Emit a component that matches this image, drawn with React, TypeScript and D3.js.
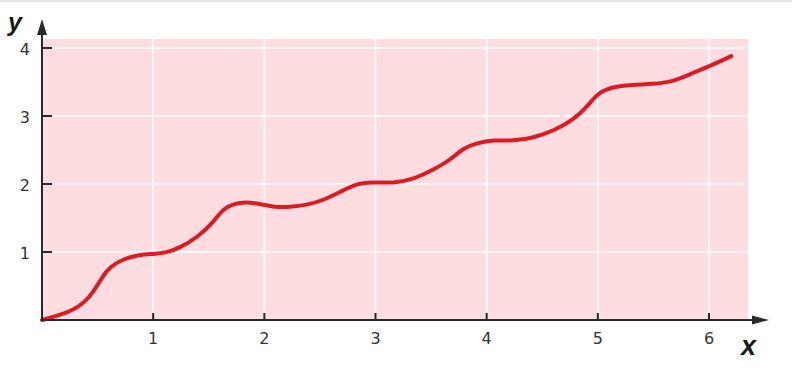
import React from "react";
import * as d3 from "d3";

const xValues = [0, 0.16, 0.34, 0.46, 0.54, 0.61, 0.73, 0.88, 1.0, 1.12, 1.24, 1.4, 1.54, 1.63, 1.78, 1.93, 2.08, 2.23, 2.38, 2.53, 2.68, 2.83, 2.98, 3.16, 3.34, 3.52, 3.67, 3.79, 3.91, 4.06, 4.24, 4.42, 4.6, 4.78, 4.9, 5.0, 5.13, 5.31, 5.49, 5.67, 5.85, 6.03, 6.2];
const yValues = [0, 0.07, 0.19, 0.4, 0.63, 0.78, 0.9, 0.96, 0.97, 0.99, 1.06, 1.22, 1.43, 1.65, 1.74, 1.72, 1.66, 1.66, 1.69, 1.76, 1.88, 2.01, 2.03, 2.01, 2.07, 2.21, 2.35, 2.53, 2.6, 2.65, 2.63, 2.68, 2.78, 2.94, 3.13, 3.34, 3.43, 3.46, 3.47, 3.5, 3.63, 3.75, 3.88];
const xTicks = [1, 2, 3, 4, 5, 6];
const yTicks = [1, 2, 3, 4];
const xAxisLabel = "x";
const yAxisLabel = "y";

export default function App() {
  const W = 792, H = 380;
  const x = d3.scaleLinear().domain([0, 6]).range([42, 709]);
  const y = d3.scaleLinear().domain([0, 4]).range([320, 48]);
  const pts = xValues.map((v, i) => [v, yValues[i]] as [number, number]);
  const line = d3
    .line<[number, number]>()
    .x((d) => x(d[0]))
    .y((d) => y(d[1]))
    .curve(d3.curveBasis);
  const axisColor = "#2a2a2a";
  const font = "'DejaVu Sans', Verdana, sans-serif";
  const labelFont = "'Liberation Sans', Arial, sans-serif";
  const x0 = x(0), y0 = y(0);
  const plotRight = 748, plotTop = 39;
  return (
    <svg width={W} height={H} style={{ position: "fixed", left: 0, top: 0, background: "#fff" }}>
      <line x1={0} x2={W} y1={1} y2={1} stroke="#e4e4e4" strokeWidth={2} />
      <rect x={x0} y={plotTop} width={plotRight - x0} height={y0 - plotTop} fill="#fddde0" />
      {xTicks.map((t) => (
        <line key={"gx" + t} x1={x(t)} x2={x(t)} y1={plotTop} y2={y0} stroke="#ffffff" strokeWidth={1.5} />
      ))}
      {yTicks.map((t) => (
        <line key={"gy" + t} x1={x0} x2={plotRight + 3} y1={y(t)} y2={y(t)} stroke="#ffffff" strokeWidth={1.5} />
      ))}
      <path d={line(pts) || ""} fill="none" stroke="#dc1c24" strokeWidth={4} strokeLinecap="round" strokeLinejoin="round" />
      {/* axes */}
      <line x1={x0} x2={x0} y1={y0 + 1} y2={30} stroke={axisColor} strokeWidth={2} />
      <path d={`M${x0},19 L${x0 - 5},35 L${x0 + 5},35 Z`} fill={axisColor} />
      <line x1={x0 - 1} x2={758} y1={y0} y2={y0} stroke={axisColor} strokeWidth={2} />
      <path d={`M769,${y0} L752,${y0 - 4.5} L752,${y0 + 4.5} Z`} fill={axisColor} />
      {yTicks.map((t) => (
        <g key={"ty" + t}>
          <line x1={x0} x2={x0 + 10} y1={y(t)} y2={y(t)} stroke={axisColor} strokeWidth={2} />
          <text x={30} y={y(t) + 6.5} textAnchor="end" fontFamily={font} fontSize={16} fill="#333">
            {t}
          </text>
        </g>
      ))}
      {xTicks.map((t) => (
        <g key={"tx" + t}>
          <line x1={x(t)} x2={x(t)} y1={y0} y2={y0 - 7} stroke={axisColor} strokeWidth={2} />
          <text x={x(t)} y={y0 + 24} textAnchor="middle" fontFamily={font} fontSize={16} fill="#333">
            {t}
          </text>
        </g>
      ))}
      <text x={8} y={31} fontFamily={labelFont} fontSize={25} fontWeight="bold" fontStyle="italic" fill="#1a1a1a">
        {yAxisLabel}
      </text>
      <text x={741} y={355} fontFamily={labelFont} fontSize={27} fontWeight="bold" fontStyle="italic" fill="#1a1a1a">
        {xAxisLabel}
      </text>
    </svg>
  );
}
